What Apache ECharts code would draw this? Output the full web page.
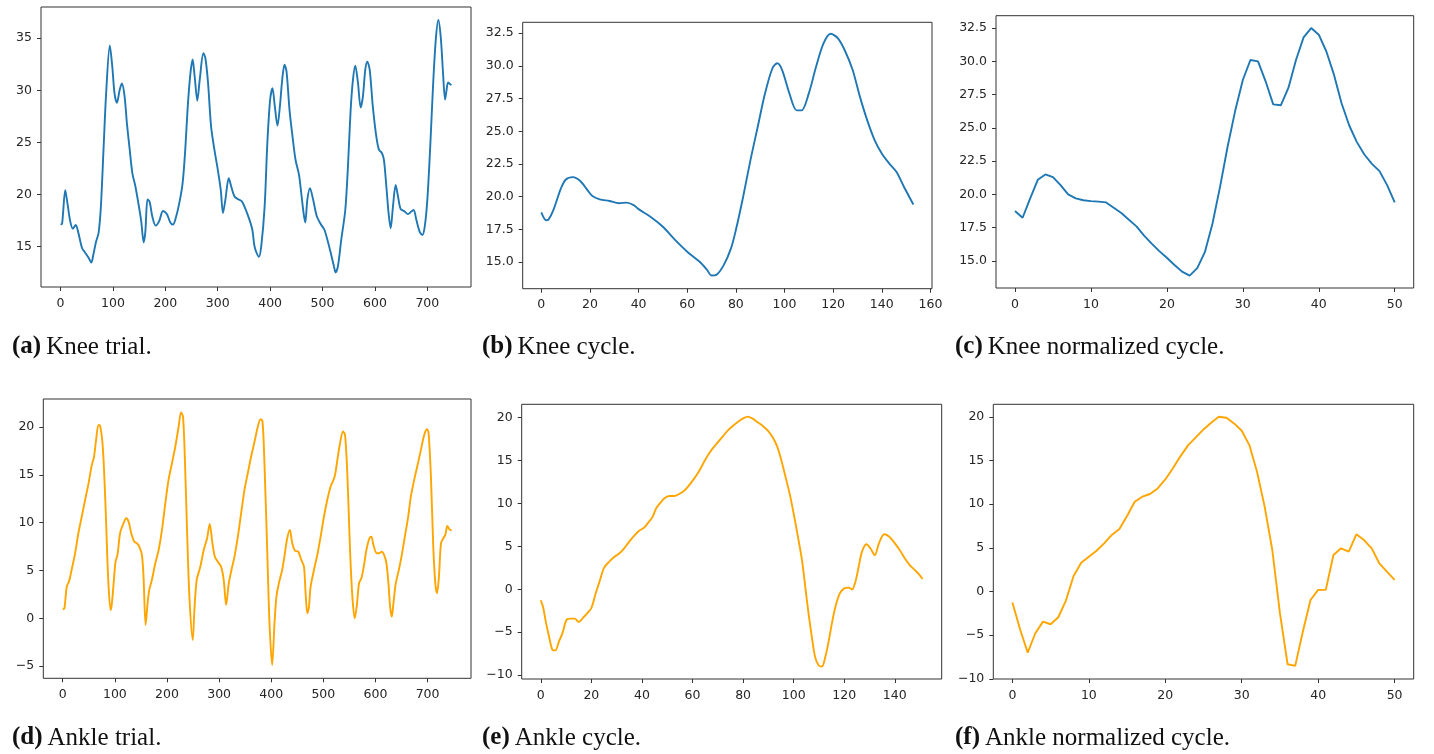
<!DOCTYPE html>
<html>
<head>
<meta charset="utf-8">
<script src="https://cdn.jsdelivr.net/npm/echarts@6/dist/echarts.min.js"></script>
<style>
  html, body { margin: 0; padding: 0; background: #fff; }
  #gaitcharts { width: 1434px; height: 754px; }
</style>
</head>
<body>
<div id="gaitcharts"></div>
<script>
// knee angle, whole trial (sample index, degrees)
const kneeTrial = [
  [0,17.1],[3,17.2],[9,20.4],[13,19.2],[18.5,17.4],[23.6,16.7],[29,17.05],[34,16.3],[41,14.85],[47,14.4],
  [53.5,13.9],[58.6,13.45],[63,14.3],[67.5,15.4],[72.6,16.3],[77,18.85],[82,24.3],[87,29.7],[94,34.3],[98.7,32.3],
  [103,29.7],[107.6,28.8],[112.7,30.0],[117,30.65],[122,29.5],[126.7,26.8],[132,24.3],[137,22.05],[142.7,20.8],[149,19.0],
  [154,17.4],[158.6,15.4],[161.8,16.4],[166,19.5],[170,19.3],[175,17.9],[181.5,17.0],[188,17.4],[195.5,18.4],[203,18.1],
  [209.5,17.3],[214.6,17.1],[219.7,17.7],[226.8,19.2],[233,21.1],[238,24.3],[242.7,28.4],[247.8,31.6],[252,32.95],[256,31.3],
  [261,29.0],[265.6,31.0],[272.6,33.55],[276.4,33.1],[281.5,30.7],[287.3,26.5],[293.6,24.3],[300,22.4],[305.7,20.45],[310,18.2],
  [314.6,19.5],[321,21.55],[325.5,20.8],[332,19.8],[340,19.5],[346.5,19.3],[356,18.2],[365.6,16.7],[370.7,14.9],[378.5,14.0],
  [383,15.0],[389.5,18.85],[394.6,24.9],[400,29.1],[404.5,30.2],[409,28.4],[414,26.6],[418.5,28.4],[423,31.0],[427.4,32.45],
  [431.3,31.8],[437,28.1],[443.4,25.25],[448.5,23.3],[455,21.9],[459.4,20.1],[463.8,18.2],[467,17.3],[471,19.5],[476,20.6],
  [482,19.5],[489,17.9],[497,17.1],[503.5,16.6],[510,15.5],[516.5,14.2],[521.7,13.1],[524.9,12.5],[529.4,13.1],[535.7,15.65],
  [543.4,18.5],[548.5,22.7],[553.6,28.1],[558,31.0],[562.5,32.35],[567.6,30.7],[572.7,28.35],[577,29.4],[581.5,31.95],[585.4,32.75],
  [590,31.95],[596,28.4],[602.5,25.6],[607.6,24.3],[613.4,23.95],[617.2,23.3],[621.7,20.8],[626,18.2],[630,16.75],[634.4,18.85],
  [639.5,20.9],[644,19.8],[649,18.6],[656.7,18.35],[663,18.1],[669.4,18.35],[673.9,18.5],[679,17.55],[685.4,16.4],[690.5,16.1],
  [695,16.9],[700,19.5],[705.8,24.9],[710.8,30.35],[716,34.8],[721,36.75],[725.5,35.15],[730,31.6],[733.8,29.1],[736.3,29.9],
  [739.5,30.75],[743,30.6],[746,30.5]
];

// knee angle, one cycle
const kneeCycle = [
  [0,18.8],[2,18.2],[3,18.27],[5,19.0],[8,20.6],[10,21.3],[13,21.5],[16,21.2],[19,20.5],[21,20.05],
  [24,19.8],[28,19.67],[32,19.5],[35,19.55],[38,19.36],[40,19.05],[45,18.45],[50,17.7],[55,16.7],[60,15.8],
  [65,15.05],[68,14.45],[70,13.98],[72,14.03],[75,14.77],[78,16.05],[80,17.45],[83,20.0],[86,22.8],[89,25.35],
  [92,27.9],[95,29.8],[97,30.2],[99,29.7],[102,27.9],[105,26.6],[107,26.6],[110,27.9],[113,29.95],[116,31.7],
  [119,32.45],[122,32.1],[125,31.1],[128,29.7],[131,27.65],[134,25.85],[137,24.35],[140,23.3],[143,22.55],[146,21.9],
  [149,20.8],[152,19.75],[153,19.4]
];

// knee angle, cycle normalized to 51 samples
const kneeNorm = [
  18.76,18.25,19.7,21.1,21.5,21.3,20.7,20.0,19.7,19.56,
  19.5,19.46,19.4,19.0,18.6,18.1,17.6,16.9,16.3,15.74,
  15.24,14.7,14.2,13.9,14.46,15.66,17.8,20.57,23.6,26.3,
  28.6,30.1,30.0,28.5,26.77,26.7,28.0,30.1,31.8,32.5,
  32.0,30.74,29.0,26.85,25.2,23.95,23.0,22.3,21.75,20.7,
  19.4
];

// ankle angle, whole trial
const ankleTrial = [
  [0,0.94],[3.2,1.05],[7.7,3.3],[12,3.84],[17,5.06],[23.7,6.8],[30,8.9],[36.5,10.65],[43,12.4],[49.4,14.1],
  [55.8,16.05],[60,16.9],[64,18.67],[68.6,20.24],[71.8,20.14],[76.3,18.3],[79.5,15.2],[83.3,9.95],[87,4.36],[91.7,0.87],
  [94,1.4],[98.7,4.36],[101.3,5.93],[105,6.63],[110,8.9],[115.4,9.77],[121.8,10.47],[126.3,10.12],[131.4,8.9],[137,8.03],
  [142.3,7.85],[146.8,7.5],[151.9,6.63],[155,4.36],[159,-0.7],[162.8,1.57],[166,2.97],[171,4.0],[177.6,5.76],[184,7.15],
  [190.4,9.25],[196.8,12.04],[203,14.49],[209.6,16.23],[216,17.98],[222.4,20.07],[227,21.54],[230.8,21.1],[234.6,16.23],[238.5,9.25],
  [243,2.27],[249.4,-2.27],[252.6,0.87],[257,4.0],[264,5.41],[270.5,7.15],[277,8.38],[282,9.88],[287.2,7.85],[291.7,6.46],
  [297.4,5.93],[303.8,5.41],[308.9,4.0],[313.5,1.4],[318.6,3.67],[323.7,5.06],[329.5,6.46],[336,8.55],[342.3,11.0],[348.7,13.44],
  [355,15.18],[361.5,16.93],[368,18.5],[374.4,20.07],[379.5,20.84],[383.3,20.6],[387,16.23],[392.3,7.15],[396.7,-0.52],[401.8,-4.89],
  [406.3,-0.52],[410,2.27],[414.7,3.67],[421,5.06],[426.2,6.8],[430.7,8.38],[435.8,9.25],[440.3,7.85],[445.4,7.08],[451.8,6.98],
  [457.7,6.11],[462.8,5.41],[466,2.62],[469.2,0.52],[472.4,1.22],[475.6,3.32],[482,5.06],[488.4,6.63],[494.8,8.55],[501.2,10.65],
  [507.6,12.4],[514,13.79],[521.7,14.83],[526.9,16.58],[532,18.32],[537.8,19.55],[541.6,19.2],[546,15.18],[551.2,7.15],[555.7,2.27],
  [560.2,0.0],[564,1.22],[568.5,3.67],[573,4.19],[578.1,5.58],[582.6,7.15],[588.4,8.38],[592.2,8.55],[596,7.68],[602.5,6.8],
  [606.9,6.8],[612,6.98],[616.6,6.63],[621,5.76],[624.9,3.67],[628.1,1.22],[631.3,0.17],[634.5,1.57],[639,3.67],[644.2,4.89],
  [649.9,6.46],[656.4,8.55],[662.8,10.65],[667.9,12.74],[674.3,14.49],[680.8,16.06],[687.2,17.63],[693.6,19.2],[698.7,19.79],[701.9,19.37],
  [706.4,14.83],[710.9,7.5],[714.8,3.67],[718,2.62],[721.8,4.36],[725.7,7.85],[730.2,8.38],[734,8.73],[737.9,9.67],[741.7,9.32],
  [746,9.18]
];

// ankle angle, one cycle
const ankleCycle = [
  [0,-1.28],[0.9,-2.06],[2,-3.8],[3.3,-5.56],[4.6,-7.04],[5.8,-7.12],[7.1,-6.15],[8.5,-5.17],[10.2,-3.54],[11.8,-3.42],
  [13.4,-3.42],[15,-3.8],[17,-3.23],[18.6,-2.72],[20,-2.18],[21.7,-0.5],[23.4,1.05],[25,2.5],[27,3.2],[29,3.77],
  [31,4.16],[32.9,4.75],[34.9,5.53],[36.9,6.23],[38.9,6.82],[40.9,7.2],[42.4,7.74],[44.2,8.44],[45.6,9.42],[47.1,10.0],
  [48.8,10.58],[50.8,10.86],[52.8,10.86],[54.7,11.1],[56.7,11.48],[58.7,12.14],[60.7,12.92],[62.7,13.81],[64.6,14.86],[66.6,15.84],
  [68,16.42],[69.9,17.08],[71.9,17.78],[73.9,18.48],[75.9,19.03],[77.9,19.5],[79.9,19.88],[81.8,20.12],[83.8,19.88],[85.8,19.46],
  [87.8,19.03],[89.8,18.48],[91.7,17.7],[93.5,16.61],[95.1,15.06],[96.6,13.31],[98.4,11.17],[100,8.83],[101.7,6.11],[103.3,3.39],
  [104.6,0.27],[105.9,-2.84],[107.2,-5.56],[108.5,-7.9],[109.9,-8.87],[111.2,-8.99],[112.5,-7.9],[113.8,-6.15],[115.1,-4.0],[116.5,-2.06],
  [118.2,-0.5],[119.9,0.08],[121.8,0.19],[123.1,-0.04],[124.4,0.86],[125.7,2.6],[127,4.36],[128.8,5.25],[130.4,4.75],[132.1,3.97],
  [133.7,5.33],[135.8,6.42],[137.6,6.19],[139.6,5.53],[142,4.55],[144,3.58],[146,2.8],[148,2.22],[149.9,1.63],[151,1.2]
];

// ankle angle, cycle normalized to 51 samples
const ankleNorm = [
  -1.27,-4.32,-7.0,-4.78,-3.45,-3.75,-2.95,-1.04,1.78,3.3,
  3.99,4.67,5.51,6.47,7.15,8.64,10.28,10.85,11.16,11.8,
  12.83,14.1,15.5,16.76,17.64,18.55,19.31,20.0,19.89,19.24,
  18.4,16.76,13.71,9.71,4.75,-2.49,-8.33,-8.52,-4.59,-0.97,
  0.18,0.18,4.18,4.94,4.56,6.54,5.89,4.94,3.23,2.27,
  1.32
];

// tick labels
const trialXTicks = [0, 100, 200, 300, 400, 500, 600, 700];
const kneeCycleXTicks = [0, 20, 40, 60, 80, 100, 120, 140, 160];
const ankleCycleXTicks = [0, 20, 40, 60, 80, 100, 120, 140];
const normXTicks = [0, 10, 20, 30, 40, 50];
const kneeTrialYTicks = [15, 20, 25, 30, 35];
const kneeCycleYTicks = [15, 17.5, 20, 22.5, 25, 27.5, 30, 32.5];
const ankleTrialYTicks = [-5, 0, 5, 10, 15, 20];
const ankleCycleYTicks = [-10, -5, 0, 5, 10, 15, 20];

const captions = [
  ["(a)", "Knee trial."], ["(b)", "Knee cycle."], ["(c)", "Knee normalized cycle."],
  ["(d)", "Ankle trial."], ["(e)", "Ankle cycle."], ["(f)", "Ankle normalized cycle."]
];

const BLUE = "#1f77b4";
const ORANGE = "#ffa500";
const withIndex = (arr) => arr.map((v, i) => [i, v]);

const panels = [
  { data: kneeTrial, color: BLUE, smooth: 0.3, box: [41, 7, 430, 280], x: [-37.3, 783.3], y: [11.1, 38.0], xt: trialXTicks, yt: kneeTrialYTicks, dec: 0, cap: [7, 327] },
  { data: kneeCycle, color: BLUE, smooth: 0.3, box: [522.7, 22.3, 409.3, 266.4], x: [-7.65, 160.65], y: [12.97, 33.33], xt: kneeCycleXTicks, yt: kneeCycleYTicks, dec: 1, cap: [477, 327] },
  { data: withIndex(kneeNorm), color: BLUE, smooth: false, box: [996, 15.7, 417.7, 272.3], x: [-2.5, 52.5], y: [12.97, 33.43], xt: normXTicks, yt: kneeCycleYTicks, dec: 1, cap: [950, 327] },
  { data: ankleTrial, color: ORANGE, smooth: 0.3, box: [43.3, 399, 427.7, 279.3], x: [-37.3, 783.3], y: [-6.28, 22.95], xt: trialXTicks, yt: ankleTrialYTicks, dec: 0, cap: [7, 718] },
  { data: ankleCycle, color: ORANGE, smooth: 0.3, box: [521.7, 404.3, 420, 274.7], x: [-7.55, 158.55], y: [-10.45, 21.55], xt: ankleCycleXTicks, yt: ankleCycleYTicks, dec: 0, cap: [477, 718] },
  { data: withIndex(ankleNorm), color: ORANGE, smooth: false, box: [993.3, 404.3, 420.4, 274.7], x: [-2.5, 52.5], y: [-10.02, 21.43], xt: normXTicks, yt: ankleCycleYTicks, dec: 0, cap: [950, 718] }
];

const fmt = (dec) => (v) => v.toFixed(dec).replace("-", "\u2212");

const axisCommon = {
  axisLine: { show: false, onZero: false },
  axisTick: { show: true, inside: false, length: 4, lineStyle: { color: "#333", width: 1 } },
  splitLine: { show: false },
  axisLabel: { color: "#262626", fontFamily: "DejaVu Sans", fontSize: 12.5 }
};

let myChart = echarts.init(document.getElementById("gaitcharts"), null, { renderer: "canvas" });

let option = {
  animation: false,
  backgroundColor: "#fff",
  title: panels.map((p, i) => ({
    left: p.cap[0],
    top: p.cap[1],
    text: "{b|" + captions[i][0] + "} {n|" + captions[i][1] + "}",
    textStyle: {
      rich: {
        b: { fontFamily: "Liberation Serif", fontWeight: "bold", fontSize: 25, color: "#111", lineHeight: 30 },
        n: { fontFamily: "Liberation Serif", fontWeight: "normal", fontSize: 25, color: "#111", lineHeight: 30 }
      }
    }
  })),
  grid: panels.map((p) => ({
    left: p.box[0], top: p.box[1], width: p.box[2], height: p.box[3],
    show: true, borderColor: "#333", borderWidth: 1, backgroundColor: "transparent", containLabel: false
  })),
  xAxis: panels.map((p, i) => ({
    type: "value", gridIndex: i, min: p.x[0], max: p.x[1], position: "bottom",
    ...axisCommon,
    axisTick: { ...axisCommon.axisTick, customValues: p.xt },
    axisLabel: { ...axisCommon.axisLabel, customValues: p.xt, margin: 10, formatter: fmt(0) }
  })),
  yAxis: panels.map((p, i) => ({
    type: "value", gridIndex: i, min: p.y[0], max: p.y[1], position: "left",
    ...axisCommon,
    axisTick: { ...axisCommon.axisTick, customValues: p.yt },
    axisLabel: { ...axisCommon.axisLabel, customValues: p.yt, margin: 9, formatter: fmt(p.dec) }
  })),
  series: panels.map((p, i) => ({
    type: "line", xAxisIndex: i, yAxisIndex: i,
    data: p.data,
    smooth: p.smooth,
    showSymbol: false, symbol: "none",
    lineStyle: { color: p.color, width: 1.9 },
    emphasis: { disabled: true }
  }))
};

option && myChart.setOption(option);
</script>
</body>
</html>
